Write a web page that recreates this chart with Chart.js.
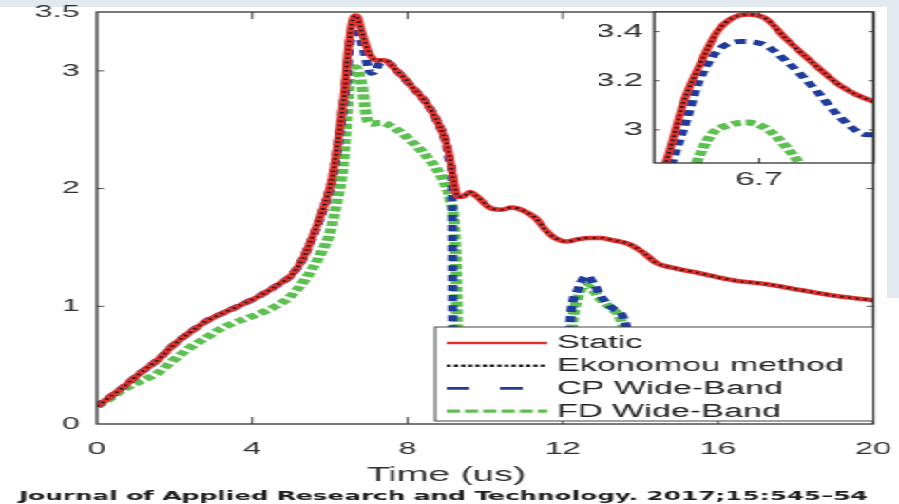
<!DOCTYPE html>
<html>
<head>
<meta charset="utf-8">
<script src="https://cdn.jsdelivr.net/npm/chart.js@4.4.1/dist/chart.umd.min.js"></script>
<style>
  html, body { margin: 0; padding: 0; background: #fff; width: 899px; height: 504px; overflow: hidden; }
  .strip { position: absolute; background: #e3e9f1; }
  /* the source figure is stretched sideways, so the whole drawing is too */
  #stage { position: absolute; left: 0; top: 0; width: 473px; height: 504px; transform: scale(1.9006, 1); transform-origin: 0 0; }
  #main { position: absolute; left: 0; top: 0; width: 473px; height: 504px; }
  #zoom { position: absolute; left: 315px; top: 0; width: 150px; height: 200px; }
</style>
</head>
<body>
<div class="strip" style="left:0;top:0;width:899px;height:7px"></div>
<div class="strip" style="left:887px;top:0;width:12px;height:298px"></div>
<div id="stage">
  <canvas id="main" width="473" height="504"></canvas>
  <canvas id="zoom" width="150" height="200"></canvas>
</div>
<script>
// time in us
const timeStatic = [0, 0.3, 0.7, 1.1, 1.55, 2.0, 2.4, 2.85, 3.3, 3.7, 4.2, 4.7, 5.0, 5.3, 5.6, 5.85, 6.05, 6.2, 6.3, 6.39,
  6.45, 6.5, 6.56, 6.61, 6.66, 6.72, 6.79, 6.89, 6.97, 7.07, 7.2, 7.4, 7.7, 8.1, 8.5, 8.8, 9.05, 9.2, 9.3, 9.42,
  9.6, 9.8, 10.1, 10.4, 10.7, 11.0, 11.3, 11.55, 11.8, 12.1, 12.4, 12.7, 13.0, 13.3, 13.7, 14.1, 14.4, 14.8, 15.4, 16.4,
  17.2, 18.1, 19.0, 20.0];
const staticVals = [0.15, 0.22, 0.32, 0.43, 0.54, 0.68, 0.78, 0.88, 0.95, 1.01, 1.09, 1.19, 1.26, 1.40, 1.63, 1.85, 2.08, 2.38, 2.62, 2.87,
  3.12, 3.26, 3.40, 3.455, 3.47, 3.455, 3.37, 3.26, 3.18, 3.12, 3.09, 3.09, 3.01, 2.87, 2.72, 2.55, 2.33, 2.05, 1.93, 1.93,
  1.97, 1.93, 1.84, 1.82, 1.84, 1.81, 1.75, 1.65, 1.58, 1.55, 1.57, 1.58, 1.58, 1.56, 1.53, 1.45, 1.37, 1.33, 1.29, 1.22,
  1.19, 1.14, 1.09, 1.05];
const ekonomouVals = [0.15, 0.22, 0.32, 0.43, 0.54, 0.68, 0.78, 0.88, 0.95, 1.01, 1.09, 1.19, 1.26, 1.40, 1.63, 1.85, 2.08, 2.38, 2.62, 2.87,
  3.12, 3.26, 3.40, 3.455, 3.47, 3.455, 3.37, 3.26, 3.18, 3.12, 3.09, 3.09, 3.01, 2.87, 2.72, 2.55, 2.33, 2.05, 1.93, 1.93,
  1.97, 1.93, 1.84, 1.82, 1.84, 1.81, 1.75, 1.65, 1.58, 1.55, 1.57, 1.58, 1.58, 1.56, 1.53, 1.45, 1.37, 1.33, 1.29, 1.22,
  1.19, 1.14, 1.09, 1.05];

const timeCP = [0, 0.3, 0.7, 1.1, 1.55, 2.0, 2.4, 2.85, 3.3, 3.7, 4.2, 4.7, 5.0, 5.3, 5.6, 5.85, 6.05, 6.2, 6.3,
  6.41, 6.46, 6.5, 6.56, 6.64, 6.71, 6.79, 6.89, 6.97, 7.06, 7.15, 7.3, 7.45, 7.7, 8.1, 8.5, 8.8, 9.0, 9.1, 9.15,
  9.17, 10.6, 12.05, 12.2, 12.4, 12.62, 12.8, 13.0, 13.3, 13.55, 13.75, 13.8];
const cpVals = [0.15, 0.22, 0.32, 0.43, 0.54, 0.68, 0.78, 0.88, 0.95, 1.01, 1.09, 1.19, 1.26, 1.40, 1.62, 1.84, 2.06, 2.35, 2.58,
  2.87, 3.05, 3.20, 3.32, 3.36, 3.35, 3.28, 3.16, 3.05, 2.98, 2.99, 3.07, 3.08, 3.01, 2.87, 2.72, 2.55, 2.38, 2.22, 2.10,
  0.1, null, 0.1, 0.9, 1.15, 1.26, 1.19, 1.08, 0.98, 0.91, 0.5, 0.1];

const timeFD = [0, 0.3, 0.67, 1.1, 1.55, 2.0, 2.4, 2.85, 3.25, 3.7, 4.12, 4.6, 4.97, 5.3, 5.57, 5.8, 6.0, 6.2, 6.34, 6.43,
  6.49, 6.54, 6.6, 6.66, 6.73, 6.79, 6.84, 6.9, 6.97, 7.1, 7.3, 7.73, 8.14, 8.58, 8.92, 9.1, 9.22, 9.27, 9.3, 10.6,
  12.1, 12.25, 12.4, 12.58, 12.8, 13.0, 13.3, 13.5, 13.7, 13.75];
const fdVals = [0.15, 0.21, 0.29, 0.36, 0.43, 0.55, 0.65, 0.74, 0.82, 0.88, 0.93, 1.0, 1.08, 1.2, 1.33, 1.47, 1.62, 1.92, 2.2, 2.6,
  2.86, 2.98, 3.02, 3.03, 3.0, 2.93, 2.85, 2.7, 2.58, 2.55, 2.56, 2.5, 2.39, 2.24, 2.07, 1.9, 1.62, 1.1, 0.1, null,
  0.1, 0.85, 1.08, 1.18, 1.13, 1.05, 0.97, 0.88, 0.5, 0.1];

const seriesNames = ['Static', 'Ekonomou method', 'CP Wide-Band', 'FD Wide-Band'];
const xTicks = [0, 4, 8, 12, 16, 20];
const yTicks = [0, 1, 2, 3, 3.5];
const zoomXTicks = [6.7];
const zoomYTicks = [3, 3.2, 3.4];
const xTitle = 'Time (us)';
const caption = 'Journal of Applied Research and Technology. 2017;15:545\u201354';

const SX = 1.9006;
const FONT = "'Liberation Sans', Arial, Helvetica, sans-serif";
const INK = '#2f2f2f';

const pts = (ts, vs) => ts.map((t, i) => ({ x: t, y: vs[i] }));
const plainLabel = v => String(v);
const noPadX = s => { s.paddingLeft = 0; s.paddingRight = 0; };
const noPadY = s => { s.paddingTop = 0; s.paddingBottom = 0; };

function makeDatasets() {
    const base = { pointRadius: 0, fill: false, cubicInterpolationMode: 'monotone', borderCapStyle: 'butt', borderJoinStyle: 'round' };
    return [
        { label: seriesNames[0], data: pts(timeStatic, staticVals), borderColor: '#e2312d', borderWidth: 4.5, order: 2,
          legendDash: [], legendWidth: 2.6 },
        { label: seriesNames[1], data: pts(timeStatic, ekonomouVals), borderColor: '#1c1c1c', borderWidth: 2, borderDash: [1.6, 2.6], order: 1,
          legendDash: [2.2, 1.6], legendWidth: 2.6 },
        { label: seriesNames[2], data: pts(timeCP, cpVals), borderColor: '#1f3b9c', borderWidth: 5, borderDash: [6, 4], order: 3,
          legendDash: [12, 16], legendWidth: 2.6 },
        { label: seriesNames[3], data: pts(timeFD, fdVals), borderColor: '#5cc050', borderWidth: 6, borderDash: [5, 2.5], order: 4,
          legendDash: [7, 2.6], legendWidth: 3.2 },
    ].map(d => Object.assign({}, base, d));
}

// matlab style box with small inward ticks
const framePlugin = {
    id: 'frame',
    beforeDatasetsDraw(chart, args, opts) {
        if (!opts.fill) return;
        const { left, top, width, height } = chart.chartArea;
        const c = chart.ctx;
        c.save();
        c.fillStyle = opts.fill;
        c.fillRect(left, top, width, height);
        c.restore();
    },
    afterDatasetsDraw(chart, args, opts) {
        const { left, right, top, bottom } = chart.chartArea;
        const { x, y } = chart.scales;
        const c = chart.ctx;
        c.save();
        c.strokeStyle = '#4a4a4a';
        c.lineWidth = 1;
        x.ticks.forEach(t => {
            const px = x.getPixelForValue(t.value);
            if (px <= left + 1 || px >= right - 1) return;
            c.beginPath();
            c.moveTo(px, bottom); c.lineTo(px, bottom - opts.tickLen);
            c.moveTo(px, top); c.lineTo(px, top + opts.tickLen);
            c.stroke();
        });
        y.ticks.forEach(t => {
            const py = y.getPixelForValue(t.value);
            if (py <= top + 1 || py >= bottom - 1) return;
            c.beginPath();
            c.moveTo(left, py); c.lineTo(left + opts.tickLen / SX, py);
            c.moveTo(right, py); c.lineTo(right - opts.tickLen / SX, py);
            c.stroke();
        });
        c.strokeStyle = '#333';
        c.lineWidth = 1.3;
        c.strokeRect(left, top, right - left, bottom - top);
        c.restore();
    }
};

// boxed legend in the lower right corner of the axes
const boxLegend = {
    id: 'boxLegend',
    afterDatasetsDraw(chart, args, opts) {
        const c = chart.ctx;
        const right = chart.chartArea.right;
        c.save();
        c.fillStyle = '#fff';
        c.fillRect(opts.left, opts.top, right - opts.left, opts.bottom - opts.top);
        c.strokeStyle = '#444';
        c.lineWidth = 1;
        c.strokeRect(opts.left, opts.top, right - opts.left, opts.bottom - opts.top);
        c.font = opts.fontSize + 'px ' + FONT;
        c.textBaseline = 'middle';
        c.fillStyle = '#222';
        chart.data.datasets.forEach((ds, i) => {
            const yy = opts.firstRow + i * opts.rowGap;
            c.beginPath();
            c.strokeStyle = ds.borderColor;
            c.lineWidth = ds.legendWidth;
            c.setLineDash(ds.legendDash);
            c.moveTo(opts.sampleFrom, yy);
            c.lineTo(opts.sampleTo, yy);
            c.stroke();
            c.setLineDash([]);
            c.fillText(ds.label, opts.textX, yy + 0.5);
        });
        c.restore();
    }
};

const tickFont = { family: FONT, size: 17 };
const zoomTickFont = { family: FONT, size: 18 };

new Chart(document.getElementById('main'), {
    type: 'line',
    data: { datasets: makeDatasets() },
    plugins: [framePlugin, boxLegend],
    options: {
        responsive: false,
        animation: false,
        devicePixelRatio: 1,
        events: [],
        layout: { padding: { left: 10, right: 13.5, top: 12, bottom: 0 } },
        scales: {
            x: {
                type: 'linear', min: 0, max: 20,
                afterBuildTicks: s => { s.ticks = xTicks.map(v => ({ value: v })); },
                afterFit: s => { s.height = 39; noPadX(s); },
                grid: { display: false, drawTicks: false },
                border: { display: false },
                ticks: { font: tickFont, color: INK, padding: 15, maxRotation: 0, autoSkip: false, callback: plainLabel }
            },
            y: {
                type: 'linear', min: 0, max: 3.5,
                afterBuildTicks: s => { s.ticks = yTicks.map(v => ({ value: v })); },
                afterFit: s => { s.width = 41; noPadY(s); },
                grid: { display: false, drawTicks: false },
                border: { display: false },
                ticks: { font: tickFont, color: INK, padding: 9, autoSkip: false, callback: plainLabel }
            }
        },
        plugins: {
            legend: { display: false },
            tooltip: { enabled: false },
            title: {
                display: true, text: xTitle, position: 'bottom', weight: 1000,
                color: INK, font: { family: FONT, size: 20, weight: 'normal' },
                padding: { top: 0, bottom: 1.4 }
            },
            subtitle: {
                display: true, text: caption, position: 'bottom', align: 'start',
                color: '#1e1e1e', font: { family: "'DejaVu Sans', Verdana, sans-serif", size: 13, weight: 'bold' },
                padding: { top: 0, bottom: 0 }
            },
            frame: { tickLen: 7 },
            boxLegend: { left: 229, top: 327, bottom: 421, firstRow: 343, rowGap: 22.7,
                         sampleFrom: 235, sampleTo: 288, textX: 293, fontSize: 18 }
        }
    }
});

// zoomed inset around the first peak
new Chart(document.getElementById('zoom'), {
    type: 'line',
    data: { datasets: makeDatasets() },
    plugins: [framePlugin],
    options: {
        responsive: false,
        animation: false,
        devicePixelRatio: 1,
        events: [],
        layout: { padding: { left: 0, right: 5.5, top: 12, bottom: 0 } },
        scales: {
            x: {
                type: 'linear', min: 6.35, max: 7.08,
                afterBuildTicks: s => { s.ticks = zoomXTicks.map(v => ({ value: v })); },
                afterFit: s => { s.height = 37; noPadX(s); },
                grid: { display: false, drawTicks: false },
                border: { display: false },
                ticks: { font: zoomTickFont, color: INK, padding: 6, maxRotation: 0, autoSkip: false, callback: plainLabel }
            },
            y: {
                type: 'linear', min: 2.865, max: 3.48,
                afterBuildTicks: s => { s.ticks = zoomYTicks.map(v => ({ value: v })); },
                afterFit: s => { s.width = 29.2; noPadY(s); },
                grid: { display: false, drawTicks: false },
                border: { display: false },
                ticks: { font: zoomTickFont, color: INK, padding: 6, autoSkip: false, callback: plainLabel }
            }
        },
        plugins: {
            legend: { display: false },
            tooltip: { enabled: false },
            frame: { fill: '#fff', tickLen: 5 }
        }
    }
});
</script>
</body>
</html>
